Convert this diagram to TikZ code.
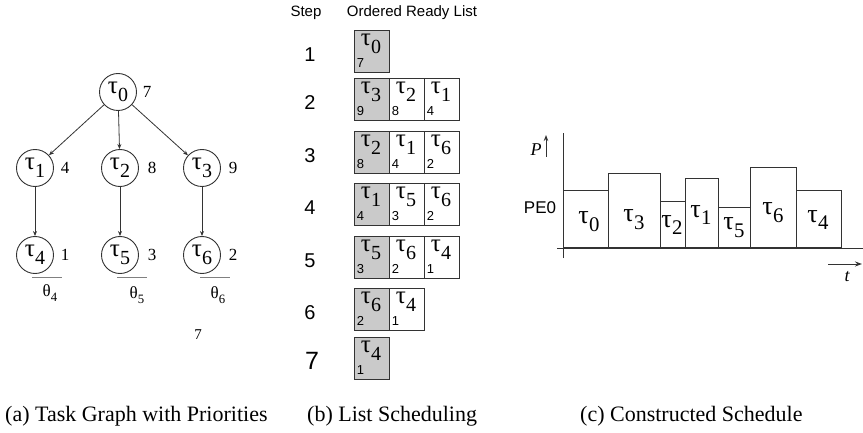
\documentclass[tikz,border=0pt]{standalone}
\usepackage{fontspec}
\setmainfont{Liberation Serif}
\setsansfont{Liberation Sans}
\usetikzlibrary{arrows.meta}

\newcommand\fs[1]{\fontsize{#1}{#1}\selectfont}
% task symbol with a lowered index
\newcommand\tk[1]{τ\kern0.01em\raisebox{-0.3em}{\scalebox{0.8}{#1}}}
\definecolor{ink}{HTML}{333333}
\definecolor{cellgray}{HTML}{CACACA}

% one cell of the ordered ready list: name, left, top, style, task index, priority
\newcommand\readycell[6]{%
  \node[#4] (#1) at (#2,#3) {};
  \node[cellt] (#1t) at (#2+17,#3+14) {\tk{#5}};
  \node[cellp] (#1p) at (#2+6.5,#3+33) {#6};
}

\begin{document}
\begin{tikzpicture}[x=1pt,y=-1pt,
  task/.style={circle, draw=ink, line width=0.9pt, minimum size=37pt, inner sep=0pt, font=\fs{25}},
  prio/.style={font=\fs{17}, inner sep=0pt},
  theta/.style={font=\fs{17}, inner sep=0pt},
  edge/.style={draw=ink, line width=0.8pt, -{Stealth[length=5pt,width=4pt]}},
  cell/.style={draw=ink, line width=1pt, minimum width=35pt, minimum height=42pt, inner sep=0pt, anchor=north west},
  hot/.style={cell, fill=cellgray},
  cellt/.style={font=\fs{25}, inner sep=0pt},
  cellp/.style={font=\sffamily\fs{13}, inner sep=0pt},
  stepnum/.style={font=\sffamily\fs{20}, inner sep=0pt},
  head/.style={font=\sffamily\fs{15}, inner sep=0pt},
  bar/.style={draw=ink, line width=1pt},
  barlabel/.style={font=\fs{26}, inner sep=0pt},
  axis/.style={draw=ink, line width=0.9pt},
  caption/.style={font=\fs{22}, anchor=base west, inner sep=0pt}]
\useasboundingbox (0,0) rectangle (863,433);

% ---------------- (a) task graph ----------------
\node[task] (t0) at (118,92)  {\tk{0}};
\node[task] (t1) at (35,168)  {\tk{1}};
\node[task] (t2) at (120,168) {\tk{2}};
\node[task] (t3) at (202,168) {\tk{3}};
\node[task] (t4) at (35,255)  {\tk{4}};
\node[task] (t5) at (120,255) {\tk{5}};
\node[task] (t6) at (202,255) {\tk{6}};

\node[prio] (p0) at (147,92)  {7};
\node[prio] (p1) at (65,168)  {4};
\node[prio] (p2) at (152,168) {8};
\node[prio] (p3) at (233,168) {9};
\node[prio] (p4) at (65,255)  {1};
\node[prio] (p5) at (152,255) {3};
\node[prio] (p6) at (233,255) {2};

\draw[edge] (t0) -- (t1);
\draw[edge] (t0) -- (t2);
\draw[edge] (t0) -- (t3);
\draw[edge] (t1) -- (t4);
\draw[edge] (t2) -- (t5);
\draw[edge] (t3) -- (t6);

% finishing marks below the sink tasks
\coordinate (u4a) at (32,277);  \coordinate (u4b) at (62,277);
\coordinate (u5a) at (117,277); \coordinate (u5b) at (147,277);
\coordinate (u6a) at (200,277); \coordinate (u6b) at (230,277);
\draw[gray, line width=0.8pt] (u4a) -- (u4b);
\draw[gray, line width=0.8pt] (u5a) -- (u5b);
\draw[gray, line width=0.8pt] (u6a) -- (u6b);
\node[theta] (th4) at (50,293)  {θ\raisebox{-0.3em}{\scalebox{0.75}{4}}};
\node[theta] (th5) at (137,295) {θ\raisebox{-0.3em}{\scalebox{0.75}{5}}};
\node[theta] (th6) at (218,295) {θ\raisebox{-0.3em}{\scalebox{0.75}{6}}};
\node[font=\fs{15}, inner sep=0pt] (len) at (198,335) {7};

% ---------------- (b) list scheduling ----------------
\node[head] (hstep) at (306,13) {Step};
\node[head] (hlist) at (412,13) {Ordered Ready List};

\node[stepnum] (s1) at (310,55)  {1};
\node[stepnum] (s2) at (310,103) {2};
\node[stepnum] (s3) at (310,156) {3};
\node[stepnum] (s4) at (310,208) {4};
\node[stepnum] (s5) at (310,261) {5};
\node[stepnum] (s6) at (310,313) {6};
\node[stepnum, font=\sffamily\fs{25}] (s7) at (312,361) {7};

\readycell{c11}{354}{30}{hot}{0}{7}
\readycell{c21}{354}{78}{hot}{3}{9}
\readycell{c22}{389}{78}{cell}{2}{8}
\readycell{c23}{424}{78}{cell}{1}{4}
\readycell{c31}{354}{131}{hot}{2}{8}
\readycell{c32}{389}{131}{cell}{1}{4}
\readycell{c33}{424}{131}{cell}{6}{2}
\readycell{c41}{354}{183}{hot}{1}{4}
\readycell{c42}{389}{183}{cell}{5}{3}
\readycell{c43}{424}{183}{cell}{6}{2}
\readycell{c51}{354}{236}{hot}{5}{3}
\readycell{c52}{389}{236}{cell}{6}{2}
\readycell{c53}{424}{236}{cell}{4}{1}
\readycell{c61}{354}{288}{hot}{6}{2}
\readycell{c62}{389}{288}{cell}{4}{1}
\readycell{c71}{354}{337}{hot}{4}{1}

% ---------------- (c) constructed schedule ----------------
\draw[bar] (563,248) rectangle (608,191);
\draw[bar] (608,248) rectangle (660,174);
\draw[bar] (660,248) rectangle (685,202);
\draw[bar] (685,248) rectangle (718,179);
\draw[bar] (718,248) rectangle (750,208);
\draw[bar] (750,248) rectangle (796,168);
\draw[bar] (796,248) rectangle (841,191);

\node[barlabel] (g0) at (589,222) {\tk{0}};
\node[barlabel] (g3) at (634,220) {\tk{3}};
\node[barlabel] (g2) at (672,225) {\tk{2}};
\node[barlabel] (g1) at (701,215) {\tk{1}};
\node[barlabel] (g5) at (734,228) {\tk{5}};
\node[barlabel] (g6) at (773,213) {\tk{6}};
\node[barlabel] (g4) at (818,220) {\tk{4}};

\coordinate (ytop) at (563,133);
\coordinate (ybot) at (563,258);
\coordinate (xleft) at (557,248);
\coordinate (xright) at (863,248);
\draw[axis] (ybot) -- (ytop);
\draw[axis] (xleft) -- (xright);

\node[font=\sffamily\fs{17}, inner sep=0pt] (pe0) at (540,208) {PE0};

\coordinate (pa) at (546,157);
\coordinate (pb) at (546,135);
\draw[ink, line width=0.9pt, -{Stealth[length=6pt,width=4.5pt]}] (pa) -- (pb);
\node[font=\itshape\fs{18}, inner sep=0pt] (plab) at (536,150) {P};

\coordinate (ta) at (828,264);
\coordinate (tb) at (862,264);
\draw[ink, line width=0.9pt, -{Stealth[length=7pt,width=5pt]}] (ta) -- (tb);
\node[font=\itshape\fs{18}, inner sep=0pt] (tlab) at (847,277) {t};

% ---------------- captions ----------------
\node[caption] (capa) at (5,421)   {(a) Task Graph with Priorities};
\node[caption] (capb) at (307,421) {(b) List Scheduling};
\node[caption] (capc) at (580,421) {(c) Constructed Schedule};
\end{tikzpicture}
\end{document}
